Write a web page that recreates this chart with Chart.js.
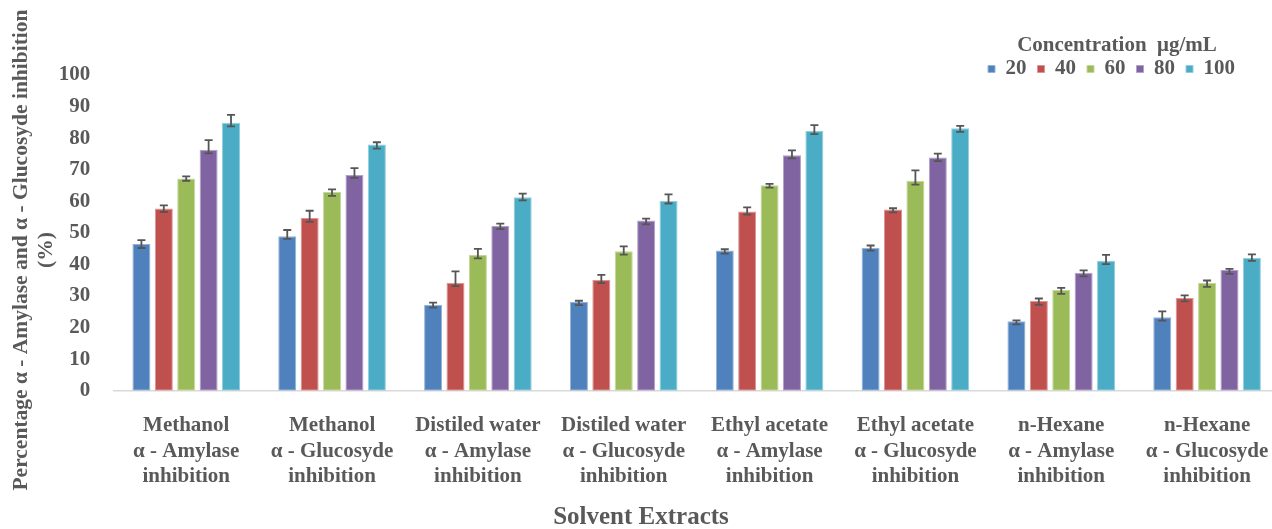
<!DOCTYPE html>
<html>
<head>
<meta charset="utf-8">
<script src="https://cdn.jsdelivr.net/npm/chart.js@4.4.1/dist/chart.umd.min.js"></script>
<style>
  html, body { margin: 0; padding: 0; background: #ffffff; overflow: hidden; }
  #wrap { position: relative; width: 1290px; height: 529px; }
</style>
</head>
<body>
<div id="wrap"><canvas id="chart" width="1290" height="529"></canvas></div>
<script>
// Solvent extract groups (three-line category labels)
const categories = [
  ['Methanol', 'α - Amylase', 'inhibition'],
  ['Methanol', 'α - Glucosyde', 'inhibition'],
  ['Distiled water', 'α - Amylase', 'inhibition'],
  ['Distiled water', 'α - Glucosyde', 'inhibition'],
  ['Ethyl acetate', 'α - Amylase', 'inhibition'],
  ['Ethyl acetate', 'α - Glucosyde', 'inhibition'],
  ['n-Hexane', 'α - Amylase', 'inhibition'],
  ['n-Hexane', 'α - Glucosyde', 'inhibition']
];

// Concentrations (µg/mL)
const concentrations = ['20', '40', '60', '80', '100'];

// Mean inhibition (%) per concentration
const conc20  = [46.5, 48.9, 27.2, 28.1, 44.4, 45.3, 22.0, 23.3];
const conc40  = [57.7, 54.7, 34.1, 35.1, 56.8, 57.4, 28.4, 29.4];
const conc60  = [67.2, 62.9, 43.1, 44.2, 65.1, 66.5, 31.9, 34.1];
const conc80  = [76.3, 68.3, 52.2, 53.9, 74.6, 73.9, 37.4, 38.2];
const conc100 = [84.9, 78.0, 61.3, 60.1, 82.3, 83.1, 41.2, 42.0];

// Error bar extents above / below the mean
const up20  = [1.2, 2.0, 0.7, 0.4, 0.4, 0.7, 0.3, 1.8];
const dn20  = [1.3, 0.8, 0.9, 1.0, 1.0, 0.9, 1.0, 1.1];
const up40  = [1.0, 2.3, 3.7, 1.6, 1.3, 0.4, 0.8, 0.8];
const dn40  = [1.1, 1.2, 1.0, 1.0, 1.0, 0.9, 1.2, 1.1];
const up60  = [0.7, 0.9, 1.8, 1.5, 0.4, 3.3, 0.7, 0.8];
const dn60  = [0.7, 1.2, 1.2, 1.1, 0.8, 1.2, 1.2, 1.2];
const up80  = [3.1, 2.2, 0.7, 0.6, 1.5, 1.2, 0.7, 0.4];
const dn80  = [1.1, 0.9, 1.0, 1.2, 1.0, 1.2, 1.2, 1.2];
const up100 = [2.5, 0.7, 1.1, 2.1, 1.8, 0.8, 1.8, 1.2];
const dn100 = [1.2, 1.3, 1.0, 0.8, 1.0, 1.1, 1.1, 0.9];

// Y axis ticks
const yTicks = [0, 10, 20, 30, 40, 50, 60, 70, 80, 90, 100];

const seriesValues = [conc20, conc40, conc60, conc80, conc100];
const seriesUp = [up20, up40, up60, up80, up100];
const seriesDn = [dn20, dn40, dn60, dn80, dn100];
const fills   = ['#4F81BD', '#C0504D', '#9BBB59', '#8064A2', '#4BACC6'];
const strokes = ['#95B3D7', '#D99694', '#C3D69B', '#B3A2C7', '#93CDDD'];

const FONT = "'Liberation Serif', 'Times New Roman', serif";
const TEXT = '#595959';
Chart.defaults.font.family = FONT;
Chart.defaults.color = TEXT;

// Vertical error bars with caps, placed at each bar's centre
const errorBars = {
  id: 'errorBars',
  afterDatasetsDraw(chart) {
    const ctx = chart.ctx;
    const y = chart.scales.y;
    ctx.save();
    ctx.strokeStyle = '#555555';
    ctx.lineWidth = 1.8;
    chart.data.datasets.forEach((ds, di) => {
      const meta = chart.getDatasetMeta(di);
      meta.data.forEach((bar, i) => {
        const v = ds.data[i];
        const yt = y.getPixelForValue(v + ds.errUp[i]);
        const yb = y.getPixelForValue(v - ds.errDown[i]);
        const x = bar.x;
        const half = 4;
        ctx.beginPath();
        ctx.moveTo(x, yt); ctx.lineTo(x, yb);
        ctx.moveTo(x - half, yt); ctx.lineTo(x + half, yt);
        ctx.moveTo(x - half, yb); ctx.lineTo(x + half, yb);
        ctx.stroke();
      });
    });
    ctx.restore();
  }
};

// Moves the legend block into the upper-right corner
const legendPlacement = {
  id: 'legendPlacement',
  afterLayout(chart) {
    const lg = chart.legend;
    if (!lg) return;
    const dx = -34;
    const h = lg.bottom - lg.top;
    lg.left += dx;
    lg.right += dx;
    lg.top = 35.5;
    lg.bottom = lg.top + h;
  }
};

// Axis titles
const axisTitles = {
  id: 'axisTitles',
  afterDraw(chart) {
    const ctx = chart.ctx;
    ctx.save();
    ctx.fillStyle = TEXT;
    ctx.textAlign = 'center';
    ctx.textBaseline = 'middle';
    ctx.font = "bold 25px " + FONT;
    ctx.fillText('Solvent Extracts', 641, 518);
    ctx.font = "bold 21.5px " + FONT;
    ctx.translate(21, 250);
    ctx.rotate(-Math.PI / 2);
    ctx.fillText('Percentage α - Amylase and α - Glucosyde inhibition', 0, 0);
    ctx.fillText('(%)', 0, 25);
    ctx.restore();
  }
};

const datasets = concentrations.map((c, i) => ({
  label: c,
  data: seriesValues[i],
  errUp: seriesUp[i],
  errDown: seriesDn[i],
  backgroundColor: fills[i],
  borderColor: strokes[i],
  borderWidth: 1,
  borderSkipped: false,
  categoryPercentage: 0.768,
  barPercentage: 0.804
}));

new Chart(document.getElementById('chart'), {
  type: 'bar',
  data: { labels: categories, datasets },
  plugins: [errorBars, legendPlacement, axisTitles],
  options: {
    responsive: false,
    animation: false,
    devicePixelRatio: 1,
    layout: { padding: { left: 0, right: 10, top: 21, bottom: 0 } },
    plugins: {
      tooltip: { enabled: false },
      title: { display: false },
      legend: {
        display: true,
        position: 'top',
        align: 'end',
        title: {
          display: true,
          text: 'Concentration  μg/mL',
          color: TEXT,
          font: { family: FONT, size: 21, weight: 'bold' },
          padding: { top: 0, bottom: -13.2 }
        },
        labels: {
          boxWidth: 7,
          boxHeight: 7,
          padding: 11,
          color: TEXT,
          font: { family: FONT, size: 21, weight: 'bold' }
        }
      }
    },
    scales: {
      x: {
        grid: { display: false },
        border: { display: true, color: '#D9D9D9', width: 1.5 },
        ticks: {
          color: TEXT,
          padding: 14.7,
          maxRotation: 0,
          autoSkip: false,
          font: { family: FONT, size: 21, weight: 'bold', lineHeight: 1.2 }
        },
        afterFit(scale) { scale.height = 138.3; }
      },
      y: {
        min: 0,
        max: 100,
        grid: { display: false },
        border: { display: false },
        afterBuildTicks(scale) { scale.ticks = yTicks.map(v => ({ value: v })); },
        ticks: {
          color: TEXT,
          padding: 15,
          font: { family: FONT, size: 21, weight: 'bold' }
        },
        afterFit(scale) { scale.width = 113.3; }
      }
    }
  }
});
</script>
</body>
</html>
